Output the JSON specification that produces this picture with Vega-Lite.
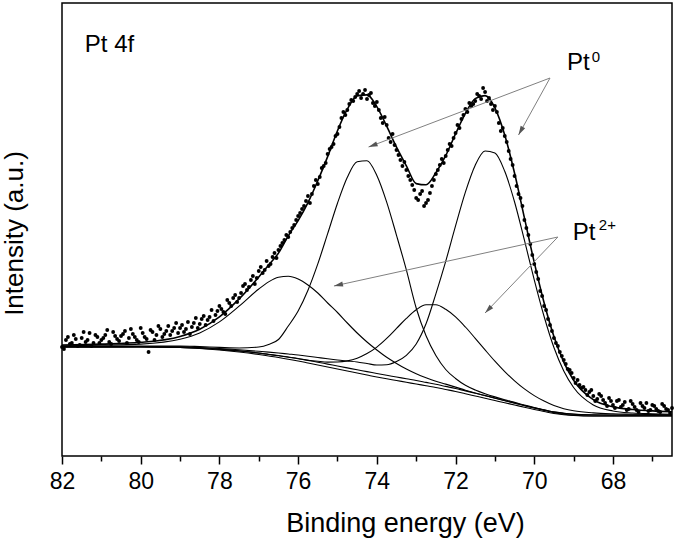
{
  "$schema": "https://vega.github.io/schema/vega-lite/v6.json",
  "width": 610,
  "height": 453,
  "autosize": {"type": "none"},
  "padding": {"left": 62, "top": 3, "right": 3, "bottom": 83},
  "background": "white",
  "config": {
    "view": {"stroke": "black", "strokeWidth": 1.5},
    "font": "Liberation Sans",
    "axis": {"labelFont": "Liberation Sans", "titleFont": "Liberation Sans"}
  },
  "datasets": {
    "grid": [
      {"x":82,"B":109,"B2":109,"C1":109,"C2":109.4,"C3":109.5,"C4":110.2,"E":111},
      {"x":81,"B":109,"B2":109,"C1":109.1,"C2":109.4,"C3":109.7,"C4":110.7,"E":111.9},
      {"x":80,"B":109,"B2":109,"C1":109.3,"C2":109.5,"C3":110,"C4":111.9,"E":113.7},
      {"x":79,"B":108.5,"B2":108.5,"C1":109.1,"C2":109.2,"C3":110,"C4":116.8,"E":119.6},
      {"x":78.5,"B":107.5,"B2":107.8,"C1":108.5,"C2":108.3,"C3":109.4,"C4":123.1,"E":126.8},
      {"x":78,"B":106,"B2":106.5,"C1":107.5,"C2":106.9,"C3":108.6,"C4":134.1,"E":139.1},
      {"x":77.5,"B":104,"B2":105,"C1":106.2,"C2":105.1,"C3":108,"C4":149.8,"E":157.1},
      {"x":77,"B":101.5,"B2":103,"C1":104.7,"C2":102.9,"C3":109,"C4":167,"E":179.1},
      {"x":76.75,"B":100,"B2":101.7,"C1":103.9,"C2":101.5,"C3":111.5,"C4":174.1,"E":191},
      {"x":76.5,"B":98.5,"B2":100.5,"C1":103,"C2":100.2,"C3":116.5,"C4":178.7,"E":202.9},
      {"x":76.25,"B":96.8,"B2":99,"C1":102,"C2":98.8,"C3":130,"C4":179.8,"E":220.2},
      {"x":76,"B":95,"B2":97.5,"C1":101,"C2":97.3,"C3":145,"C4":177,"E":235.3},
      {"x":75.75,"B":93,"B2":95.6,"C1":99.8,"C2":95.8,"C3":165.8,"C4":171,"E":253.4},
      {"x":75.5,"B":91,"B2":93.8,"C1":98.5,"C2":94.7,"C3":192.1,"C4":163,"E":275.3},
      {"x":75.25,"B":89,"B2":91.9,"C1":97.2,"C2":93.9,"C3":222.3,"C4":153,"E":299.4},
      {"x":75,"B":87,"B2":90,"C1":96,"C2":94,"C3":252.8,"C4":143.5,"E":325.3},
      {"x":74.75,"B":85,"B2":88.1,"C1":95,"C2":95.1,"C3":278.7,"C4":133,"E":346.8},
      {"x":74.5,"B":83,"B2":86.2,"C1":94,"C2":97.8,"C3":294.3,"C4":123,"E":360.1},
      {"x":74.25,"B":81,"B2":84.4,"C1":92.5,"C2":102.4,"C3":295.2,"C4":114,"E":361.1},
      {"x":74,"B":79,"B2":82.5,"C1":91,"C2":108.9,"C3":280.5,"C4":106,"E":349.4},
      {"x":73.75,"B":77.2,"B2":80.7,"C1":91.2,"C2":117.6,"C3":253.9,"C4":98.7,"E":329.8},
      {"x":73.5,"B":75.5,"B2":79,"C1":94.5,"C2":127.6,"C3":220.7,"C4":92.5,"E":308.8},
      {"x":73.25,"B":73.7,"B2":77.2,"C1":100.7,"C2":137.6,"C3":186.1,"C4":86.9,"E":290.2},
      {"x":73,"B":72,"B2":75.5,"C1":112,"C2":146.2,"C3":148,"C4":82.2,"E":272.4},
      {"x":72.75,"B":70.2,"B2":73.6,"C1":132.2,"C2":151.2,"C3":120.2,"C4":78.2,"E":271.2},
      {"x":72.5,"B":68.5,"B2":71.7,"C1":162.2,"C2":151.3,"C3":100.5,"C4":74.7,"E":283.2},
      {"x":72.25,"B":66.5,"B2":69.6,"C1":194.7,"C2":146.7,"C3":86.5,"C4":71.9,"E":300.3},
      {"x":72,"B":64.5,"B2":67.5,"C1":230.1,"C2":139.1,"C3":77.5,"C4":68.9,"E":322.1},
      {"x":71.75,"B":62.2,"B2":65.1,"C1":263.8,"C2":129,"C3":70.7,"C4":65.8,"E":342.7},
      {"x":71.5,"B":60,"B2":62.8,"C1":290.7,"C2":117.7,"C3":66,"C4":63,"E":357.4},
      {"x":71.25,"B":57.8,"B2":60.5,"C1":305,"C2":106.1,"C3":62.3,"C4":60.4,"E":360.4},
      {"x":71,"B":55.5,"B2":58,"C1":303,"C2":94.8,"C3":59.1,"C4":57.8,"E":348.2},
      {"x":70.75,"B":53.2,"B2":55.5,"C1":284.7,"C2":84.4,"C3":56.2,"C4":55.3,"E":321},
      {"x":70.5,"B":51,"B2":53,"C1":254,"C2":75.2,"C3":53.6,"C4":52.9,"E":282.7},
      {"x":70.25,"B":48.7,"B2":50.5,"C1":215.8,"C2":67.1,"C3":50.9,"C4":50.4,"E":238.1},
      {"x":70,"B":46.5,"B2":48,"C1":176.1,"C2":60.4,"C3":48.5,"C4":48.1,"E":193.6},
      {"x":69.75,"B":44.5,"B2":45.6,"C1":139.5,"C2":54.9,"C3":46.3,"C4":46,"E":153.2},
      {"x":69.5,"B":42.5,"B2":43.3,"C1":108.5,"C2":50.4,"C3":44.1,"C4":43.9,"E":119.4},
      {"x":69.25,"B":41.3,"B2":41.8,"C1":85.1,"C2":47.3,"C3":42.8,"C4":42.6,"E":93.9},
      {"x":69,"B":40.5,"B2":40.8,"C1":68.5,"C2":45.2,"C3":41.9,"C4":41.7,"E":75.8},
      {"x":68.5,"B":40,"B2":40,"C1":51,"C2":43.1,"C3":41.2,"C4":41,"E":56.3},
      {"x":68,"B":40,"B2":40,"C1":45,"C2":42.2,"C3":41,"C4":40.9,"E":49.1},
      {"x":67.5,"B":40,"B2":40,"C1":43,"C2":41.8,"C3":40.9,"C4":40.8,"E":46.5},
      {"x":67,"B":40,"B2":40,"C1":42.2,"C2":41.4,"C3":40.8,"C4":40.7,"E":45.1},
      {"x":66.5,"B":40,"B2":40,"C1":41.7,"C2":41.2,"C3":40.7,"C4":40.7,"E":44.3}
    ],
    "dots": [
      {"x":82.0,"v":109},{"x":81.9,"v":116},{"x":81.8,"v":112},{"x":81.7,"v":121},{"x":81.6,"v":110},
      {"x":81.5,"v":118},{"x":81.4,"v":114},{"x":81.3,"v":123},{"x":81.2,"v":113},{"x":81.1,"v":119},
      {"x":81.0,"v":116},{"x":80.9,"v":121},{"x":80.8,"v":114},{"x":80.7,"v":124},{"x":80.6,"v":117},
      {"x":80.5,"v":120},{"x":80.4,"v":125},{"x":80.3,"v":118},{"x":80.2,"v":122},{"x":80.1,"v":116},
      {"x":80.0,"v":128},{"x":79.9,"v":119},{"x":79.8,"v":104},{"x":79.7,"v":124},{"x":79.6,"v":121},
      {"x":79.5,"v":127},{"x":79.4,"v":122},{"x":79.3,"v":130},{"x":79.2,"v":125},{"x":79.1,"v":133},
      {"x":79.0,"v":128},{"x":78.9,"v":124},{"x":78.8,"v":134},{"x":78.7,"v":129},{"x":78.6,"v":138},
      {"x":78.5,"v":132},{"x":78.4,"v":140},{"x":78.3,"v":136},{"x":78.2,"v":146},{"x":78.1,"v":141},
      {"x":78.0,"v":150},{"x":77.9,"v":144},{"x":77.8,"v":156},{"x":77.7,"v":150},{"x":77.6,"v":161},
      {"x":77.5,"v":158},{"x":77.4,"v":170},{"x":77.3,"v":166},{"x":77.2,"v":176},{"x":77.1,"v":172},
      {"x":77.0,"v":185},{"x":76.9,"v":183},{"x":76.8,"v":195},{"x":76.7,"v":192},{"x":76.6,"v":203},
      {"x":76.5,"v":206},{"x":76.4,"v":213},{"x":76.3,"v":221},{"x":76.2,"v":224},{"x":76.1,"v":231},
      {"x":76.0,"v":240},{"x":75.9,"v":247},{"x":75.8,"v":255},{"x":75.7,"v":253},{"x":75.6,"v":270},
      {"x":75.5,"v":272},{"x":75.4,"v":288},{"x":75.3,"v":293},{"x":75.2,"v":307},{"x":75.1,"v":312},
      {"x":75.0,"v":322},{"x":74.9,"v":338},{"x":74.8,"v":341},{"x":74.7,"v":352},{"x":74.6,"v":355},
      {"x":74.5,"v":362},{"x":74.4,"v":358},{"x":74.3,"v":366},{"x":74.2,"v":361},{"x":74.1,"v":353},
      {"x":74.0,"v":354},{"x":73.9,"v":338},{"x":73.8,"v":339},{"x":73.7,"v":318},{"x":73.6,"v":322},
      {"x":73.5,"v":306},{"x":73.4,"v":296},{"x":73.3,"v":294},{"x":73.2,"v":280},{"x":73.1,"v":271},
      {"x":73.0,"v":258},{"x":72.9,"v":262},{"x":72.8,"v":250},{"x":72.7,"v":256},{"x":72.6,"v":270},
      {"x":72.5,"v":282},{"x":72.4,"v":291},{"x":72.3,"v":293},{"x":72.2,"v":306},{"x":72.1,"v":310},
      {"x":72.0,"v":323},{"x":71.9,"v":328},{"x":71.8,"v":341},{"x":71.7,"v":344},{"x":71.6,"v":350},
      {"x":71.5,"v":355},{"x":71.4,"v":360},{"x":71.3,"v":368},{"x":71.2,"v":355},{"x":71.1,"v":352},
      {"x":71.0,"v":350},{"x":70.9,"v":333},{"x":70.8,"v":328},{"x":70.7,"v":314},{"x":70.6,"v":297},
      {"x":70.5,"v":280},{"x":70.4,"v":262},{"x":70.3,"v":250},{"x":70.2,"v":228},{"x":70.1,"v":212},
      {"x":70.0,"v":192},{"x":69.9,"v":177},{"x":69.8,"v":160},{"x":69.7,"v":146},{"x":69.6,"v":131},
      {"x":69.5,"v":118},{"x":69.4,"v":110},{"x":69.3,"v":100},{"x":69.2,"v":92},{"x":69.1,"v":86},
      {"x":69.0,"v":78},{"x":68.9,"v":76},{"x":68.8,"v":68},{"x":68.7,"v":66},{"x":68.6,"v":64},
      {"x":68.5,"v":60},{"x":68.4,"v":57},{"x":68.3,"v":60},{"x":68.2,"v":53},{"x":68.1,"v":58},
      {"x":68.0,"v":51},{"x":67.9,"v":55},{"x":67.8,"v":49},{"x":67.7,"v":54},{"x":67.6,"v":47},
      {"x":67.5,"v":52},{"x":67.4,"v":46},{"x":67.3,"v":53},{"x":67.2,"v":48},{"x":67.1,"v":45},
      {"x":67.0,"v":51},{"x":66.9,"v":47},{"x":66.8,"v":44},{"x":66.7,"v":50},{"x":66.6,"v":46},
      {"x":66.5,"v":48},
      {"x":81.95,"v":107},{"x":81.85,"v":119},{"x":81.75,"v":113},{"x":81.65,"v":117},{"x":81.55,"v":111},
      {"x":81.45,"v":124},{"x":81.35,"v":116},{"x":81.25,"v":110},{"x":81.15,"v":121},{"x":81.05,"v":113},
      {"x":80.95,"v":118},{"x":80.85,"v":126},{"x":80.75,"v":112},{"x":80.65,"v":120},{"x":80.55,"v":115},
      {"x":80.45,"v":122},{"x":80.35,"v":113},{"x":80.25,"v":127},{"x":80.15,"v":119},{"x":80.05,"v":114},
      {"x":79.95,"v":123},{"x":79.85,"v":117},{"x":79.75,"v":126},{"x":79.65,"v":116},{"x":79.55,"v":130},
      {"x":79.45,"v":119},{"x":79.35,"v":125},{"x":79.25,"v":121},{"x":79.15,"v":128},{"x":79.05,"v":123},
      {"x":78.95,"v":131},{"x":78.85,"v":127},{"x":78.75,"v":122},{"x":78.65,"v":133},{"x":78.55,"v":128},
      {"x":78.45,"v":137},{"x":78.35,"v":131},{"x":78.25,"v":139},{"x":78.15,"v":135},{"x":78.05,"v":145},
      {"x":77.95,"v":147},{"x":77.85,"v":142},{"x":77.75,"v":153},{"x":77.65,"v":158},{"x":77.55,"v":154},
      {"x":77.45,"v":163},{"x":77.35,"v":172},{"x":77.25,"v":169},{"x":77.15,"v":180},{"x":77.05,"v":178},
      {"x":76.95,"v":189},{"x":76.85,"v":186},{"x":76.75,"v":190},{"x":76.65,"v":199},{"x":76.55,"v":198},
      {"x":76.45,"v":210},{"x":76.35,"v":216},{"x":76.25,"v":219},{"x":76.15,"v":228},{"x":76.05,"v":236},
      {"x":75.95,"v":243},{"x":75.85,"v":250},{"x":75.75,"v":260},{"x":75.65,"v":262},{"x":75.55,"v":276},
      {"x":75.45,"v":279},{"x":75.35,"v":290},{"x":75.25,"v":302},{"x":75.15,"v":309},{"x":75.05,"v":320},
      {"x":74.95,"v":329},{"x":74.85,"v":344},{"x":74.75,"v":346},{"x":74.65,"v":356},{"x":74.55,"v":359},
      {"x":74.45,"v":365},{"x":74.35,"v":362},{"x":74.25,"v":357},{"x":74.15,"v":363},{"x":74.05,"v":350},
      {"x":73.95,"v":346},{"x":73.85,"v":333},{"x":73.75,"v":331},{"x":73.65,"v":314},{"x":73.55,"v":311},
      {"x":73.45,"v":301},{"x":73.35,"v":290},{"x":73.25,"v":286},{"x":73.15,"v":276},{"x":73.05,"v":266},
      {"x":72.95,"v":256},{"x":72.85,"v":265},{"x":72.75,"v":253},{"x":72.65,"v":263},{"x":72.55,"v":276},
      {"x":72.45,"v":286},{"x":72.35,"v":297},{"x":72.25,"v":300},{"x":72.15,"v":312},{"x":72.05,"v":318},
      {"x":71.95,"v":331},{"x":71.85,"v":337},{"x":71.75,"v":347},{"x":71.65,"v":353},{"x":71.55,"v":352},
      {"x":71.45,"v":362},{"x":71.35,"v":357},{"x":71.25,"v":364},{"x":71.15,"v":358},{"x":71.05,"v":346},
      {"x":70.95,"v":344},{"x":70.85,"v":325},{"x":70.75,"v":320},{"x":70.65,"v":305},{"x":70.55,"v":291},
      {"x":70.45,"v":270},{"x":70.35,"v":258},{"x":70.25,"v":236},{"x":70.15,"v":221},{"x":70.05,"v":201},
      {"x":69.95,"v":184},{"x":69.85,"v":165},{"x":69.75,"v":150},{"x":69.65,"v":137},{"x":69.55,"v":125},
      {"x":69.45,"v":113},{"x":69.35,"v":104},{"x":69.25,"v":96},{"x":69.15,"v":87},{"x":69.05,"v":83},
      {"x":68.95,"v":73},{"x":68.85,"v":71},{"x":68.75,"v":69},{"x":68.65,"v":61},{"x":68.55,"v":66},
      {"x":68.45,"v":55},{"x":68.35,"v":62},{"x":68.25,"v":56},{"x":68.15,"v":50},{"x":68.05,"v":55},
      {"x":67.95,"v":48},{"x":67.85,"v":56},{"x":67.75,"v":51},{"x":67.65,"v":46},{"x":67.55,"v":55},
      {"x":67.45,"v":49},{"x":67.35,"v":44},{"x":67.25,"v":50},{"x":67.15,"v":53},{"x":67.05,"v":46},
      {"x":66.95,"v":50},{"x":66.85,"v":45},{"x":66.75,"v":52},{"x":66.65,"v":47},{"x":66.55,"v":43}
    ],
    "arrows": [
      {"x":69.6,"v":378,"x2":74.21,"v2":309},
      {"x":69.6,"v":378,"x2":70.40,"v2":321},
      {"x":69.40,"v":219,"x2":75.09,"v2":170},
      {"x":69.40,"v":219,"x2":71.25,"v2":143}
    ],
    "heads": [
      {"x":74.21,"v":309,"angle":249.2},
      {"x":70.40,"v":321,"angle":208.9},
      {"x":75.09,"v":170,"angle":257.6},
      {"x":71.25,"v":143,"angle":223.9}
    ],
    "labels": [
      {"x":81.42,"v":404,"label":"Pt 4f"},
      {"x":69.17,"v":386,"label":"Pt"},
      {"x":69.02,"v":216,"label":"Pt"}
    ],
    "sups": [
      {"x":68.54,"v":394,"label":"0"},
      {"x":68.36,"v":226,"label":"2+"}
    ]
  },
  "encoding": {
    "x": {"field": "x", "type": "quantitative", "scale": {"domain": [66.5, 82], "reverse": true, "nice": false, "zero": false}, "axis": null},
    "y": {"field": "v", "type": "quantitative", "scale": {"domain": [0, 453], "nice": false, "zero": false},
      "axis": {"title": "Intensity (a.u.)", "labels": false, "ticks": false, "domain": false, "grid": false,
        "titleFontSize": 26, "titleFontWeight": "normal", "titleColor": "black", "titlePadding": 35, "titleY": 230, "titleAlign": "center"}}
  },
  "layer": [
    {
      "data": {"name": "grid"},
      "transform": [{"fold": ["B", "B2", "C1", "C2", "C3", "C4"], "as": ["curve", "v"]}],
      "mark": {"type": "line", "color": "black", "strokeWidth": 1.1, "interpolate": "monotone"},
      "encoding": {"detail": {"field": "curve"}}
    },
    {
      "data": {"name": "grid"},
      "transform": [{"fold": ["E"], "as": ["curve", "v"]}],
      "mark": {"type": "line", "color": "black", "strokeWidth": 1.6, "interpolate": "monotone"},
      "encoding": {"detail": {"field": "curve"}}
    },
    {
      "data": {"name": "dots"},
      "mark": {"type": "point", "filled": true, "color": "black", "size": 15, "opacity": 1},
      "encoding": {
        "x": {"field": "x", "type": "quantitative", "scale": {"domain": [66.5, 82], "reverse": true, "nice": false, "zero": false},
          "axis": {"orient": "bottom", "values": [68, 70, 72, 74, 76, 78, 80, 82], "format": "d", "tickSize": 8, "tickWidth": 1.5, "tickColor": "black",
            "domain": false, "grid": false, "labelFontSize": 23, "labelColor": "black", "labelPadding": 6, "labelFlush": false, "labelOverlap": false,
            "title": "Binding energy (eV)", "titleFontSize": 27, "titleFontWeight": "normal", "titleColor": "black", "titlePadding": 17,
            "titleX": 343, "titleAlign": "center"}}
      }
    },
    {
      "data": {"name": "arrows"},
      "mark": {"type": "rule", "color": "#808080", "strokeWidth": 1},
      "encoding": {"x2": {"field": "x2"}, "y2": {"field": "v2"}}
    },
    {
      "data": {"name": "heads"},
      "mark": {"type": "point", "shape": "M0,0L-0.28,1L0.28,1Z", "filled": true, "color": "#555555", "size": 330, "opacity": 1},
      "encoding": {
        "angle": {"field": "angle", "type": "quantitative", "scale": null},
        "x": {"field": "x", "type": "quantitative", "scale": {"domain": [66.5, 82], "reverse": true, "nice": false, "zero": false},
          "axis": {"orient": "bottom", "values": [67, 69, 71, 73, 75, 77, 79, 81], "tickSize": 5, "tickWidth": 1.5, "tickColor": "black",
            "domain": false, "grid": false, "labels": false, "title": null}}
      }
    },
    {
      "data": {"name": "labels"},
      "mark": {"type": "text", "align": "left", "baseline": "alphabetic", "fontSize": 24, "font": "Liberation Sans", "color": "black"},
      "encoding": {"text": {"field": "label"}}
    },
    {
      "data": {"name": "sups"},
      "mark": {"type": "text", "align": "left", "baseline": "alphabetic", "fontSize": 15, "font": "Liberation Sans", "color": "black"},
      "encoding": {"text": {"field": "label"}}
    }
  ],
  "resolve": {"axis": {"x": "independent"}}
}
